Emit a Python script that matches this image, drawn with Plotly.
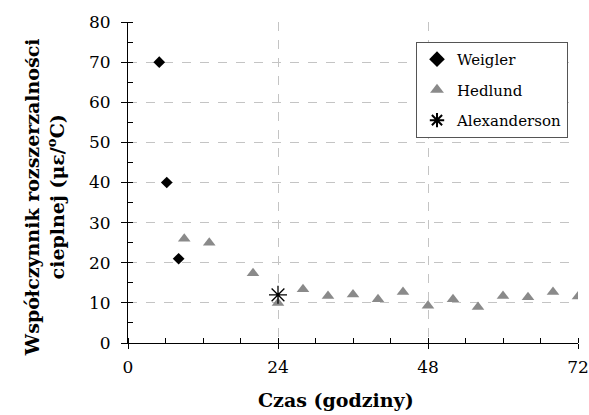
import plotly.graph_objects as go

weigler_x = [5, 6.2, 8.1]
weigler_y = [70, 40, 21]

hedlund_x = [9, 13, 20, 24, 28, 32, 36, 40, 44, 48, 52, 56, 60, 64, 68, 72]
hedlund_y = [26, 25, 17.4, 10, 13.4, 11.7, 12.1, 10.9, 12.7, 9.3, 10.9, 9.0, 11.7, 11.4, 12.7, 11.6]

alex_x = [24]
alex_y = [12]

x_ticks = [0, 24, 48, 72]
y_ticks = [0, 10, 20, 30, 40, 50, 60, 70, 80]

x_title = "<b>Czas (godziny)</b>"
y_title = "<b>Współczynnik rozszerzalności<br>cieplnej (με/<sup>o</sup>C)</b>"

FONT = "DejaVu Serif"

fig = go.Figure()
fig.add_trace(go.Scatter(x=weigler_x, y=weigler_y, mode="markers", name="Weigler", legendgroup="a",
                         marker=dict(symbol="diamond", size=9, color="black")))
fig.add_trace(go.Scatter(x=hedlund_x, y=hedlund_y, mode="markers", name="Hedlund", legendgroup="b",
                         marker=dict(symbol="triangle-up", size=11, color="#8a8a8a")))
fig.add_trace(go.Scatter(x=alex_x, y=alex_y, mode="markers", name="Alexanderson", legendgroup="c",
                         marker=dict(symbol="asterisk-open", size=15, color="black",
                                     line=dict(color="black", width=1.3))))

fig.update_layout(
    width=589, height=415,
    margin=dict(l=128, r=11, t=22, b=72),
    paper_bgcolor="white", plot_bgcolor="white",
    font=dict(family=FONT, size=17, color="black"),
    showlegend=True,
    legend=dict(x=0.64, y=0.938, xanchor="left", yanchor="top",
                bordercolor="#555555", borderwidth=1, bgcolor="white",
                font=dict(family=FONT, size=15), itemsizing="constant",
                tracegroupgap=8, itemwidth=30),
    xaxis=dict(range=[0, 72], tickvals=x_ticks, ticktext=[str(v) for v in x_ticks],
               automargin=False, tickfont=dict(family=FONT, size=17),
               showgrid=True, gridcolor="#c4c4c4", griddash="dash", gridwidth=1,
               showline=True, linecolor="black", linewidth=1, zeroline=False,
               ticks="outside", ticklen=5, tickcolor="black", ticklabelstandoff=4,
               minor=dict(dtick=6, tick0=0, ticks="inside", ticklen=5, tickcolor="black", showgrid=False)),
    yaxis=dict(range=[0, 80], tickvals=y_ticks, ticktext=[str(v) for v in y_ticks],
               automargin=False, tickfont=dict(family=FONT, size=17),
               showgrid=True, gridcolor="#c4c4c4", griddash="dash", gridwidth=1,
               showline=True, linecolor="black", linewidth=1, zeroline=False,
               ticks="outside", ticklen=6, tickcolor="black", ticklabelstandoff=7,
               minor=dict(dtick=5, tick0=0, ticks="inside", ticklen=5, tickcolor="black", showgrid=False)),
    annotations=[
        dict(text=x_title, xref="paper", yref="paper", x=0.462, y=-0.178,
             xanchor="center", yanchor="middle", showarrow=False,
             font=dict(family=FONT, size=19, color="black")),
        dict(text=y_title, xref="paper", yref="paper", x=-0.184, y=0.455,
             xanchor="center", yanchor="middle", showarrow=False, textangle=-90,
             font=dict(family=FONT, size=19, color="black")),
    ],
)

fig.write_html("out.html")
